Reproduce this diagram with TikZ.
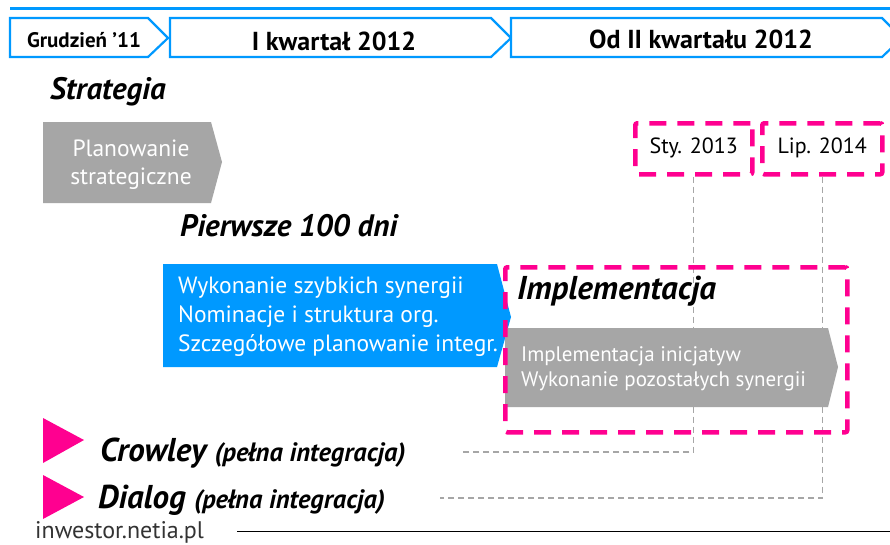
\documentclass[tikz,border=0pt]{standalone}
\usepackage{fontspec}
\setmainfont{PT Sans}
\definecolor{nblue}{HTML}{0099FF}
\definecolor{npink}{HTML}{FF0090}
\definecolor{ngray}{HTML}{A6A6A6}
\definecolor{ndark}{HTML}{333333}
\begin{document}
\begin{tikzpicture}[x=1pt,y=-1pt,
  hdr/.style={draw=nblue, line width=2.2pt, fill=white, line join=miter},
  hdrtxt/.style={anchor=center, inner sep=0pt, text=black},
  grayshape/.style={fill=ngray},
  blueshape/.style={fill=nblue},
  pinkbox/.style={draw=npink, line width=4.5pt, dash pattern=on 17pt off 11pt, rounded corners=2pt},
  conn/.style={draw=ngray, line width=1.3pt, dash pattern=on 6pt off 4pt},
  heading/.style={font=\bfseries\itshape\fontsize{31}{34}\selectfont, anchor=west, inner sep=0pt},
  whitetxt/.style={text=white, inner sep=0pt},
  datetxt/.style={font=\fontsize{22}{24}\selectfont, inner sep=0pt, text=black},
  tri/.style={fill=npink}
]
\useasboundingbox (0,0) rectangle (890,544);
\fill[white] (0,0) rectangle (890,544);

% top line
\draw[nblue, line width=3pt] (10,8) -- (890,8);

% header chevrons
\path[hdr] (10,18) -- (148,18) -- (168,38) -- (148,57) -- (10,57) -- cycle;
\path[hdr] (170,18) -- (491,18) -- (511,38) -- (491,57) -- (170,57) -- cycle;
\path[hdr] (511,18) -- (882,18) -- (902,38) -- (882,57) -- (511,57) -- cycle;
\node[hdrtxt, font=\bfseries\fontsize{21}{23}\selectfont] (h1) at (84,40) {Grudzień ’11};
\node[hdrtxt, font=\bfseries\fontsize{26}{28}\selectfont] (h2) at (334,41) {I kwartał 2012};
\node[hdrtxt, font=\bfseries\fontsize{26}{28}\selectfont] (h3) at (701,39) {Od II kwartału 2012};

% Strategia
\node[heading] (strat) at (50,92) {Strategia};
\path[grayshape] (43,122) -- (211,122) -- (222,162) -- (211,203) -- (43,203) -- cycle;
\node[whitetxt, align=center, font=\fontsize{23.5}{28}\selectfont] (plan) at (131,165) {Planowanie\\strategiczne};

% Pierwsze 100 dni
\node[heading] (p100) at (180,226) {Pierwsze 100 dni};
\path[blueshape] (163,264) -- (497,264) -- (511,317) -- (497,367) -- (163,367) -- cycle;
\node[whitetxt, align=left, anchor=west, font=\fontsize{23.5}{29}\selectfont] (blue) at (178,317) {Wykonanie szybkich synergii\\Nominacje i struktura org.\\Szczegółowe planowanie integr.};

% date boxes
\node[pinkbox, minimum width=117pt, minimum height=51pt, anchor=north west] (sty) at (633,121) {};
\node[pinkbox, minimum width=120pt, minimum height=51pt, anchor=north west] (lip) at (760,121) {};
\node[datetxt] (stytxt) at ([yshift=1pt]sty.center) {Sty. 2013};
\node[datetxt] (liptxt) at ([yshift=1pt]lip.center) {Lip. 2014};

% connectors
\coordinate (c1) at (460,452);
\coordinate (c2) at (440,498);
\draw[conn] (sty.south) |- (c1);
\draw[conn] (lip.south) |- (c2);

% Implementacja
\path[grayshape] (505,328) -- (828,328) -- (838,367) -- (828,407) -- (505,407) -- cycle;
\node[whitetxt, align=left, anchor=west, font=\fontsize{21}{25}\selectfont] (impltxt) at (521,369) {Implementacja inicjatyw\\Wykonanie pozostałych synergii};
\node[pinkbox, minimum width=342pt, minimum height=165pt, anchor=north west] (implbox) at (503,265) {};
\node[heading, font=\bfseries\itshape\fontsize{33}{36}\selectfont] (impl) at (517,291) {Implementacja};

% Crowley / Dialog
\path[tri] (43,418) -- (84,440) -- (43,463) -- cycle;
\path[tri] (43,475) -- (84,497) -- (43,519) -- cycle;
\node[anchor=base west, inner sep=0pt] (crow) at (100,461) {\bfseries\itshape\fontsize{33}{36}\selectfont Crowley \fontsize{26.5}{28}\selectfont(pełna integracja)};
\node[anchor=base west, inner sep=0pt] (dial) at (98,508) {\bfseries\itshape\fontsize{33}{36}\selectfont Dialog \fontsize{26.5}{28}\selectfont(pełna integracja)};

% footer
\node[anchor=base west, inner sep=0pt, text=ndark, font=\fontsize{24}{26}\selectfont] (foot) at (35,538) {inwestor.netia.pl};
\coordinate (l1) at (237,531);
\coordinate (l2) at (890,531);
\draw[black, line width=1pt] (l1) -- (l2);
\end{tikzpicture}
\end{document}
